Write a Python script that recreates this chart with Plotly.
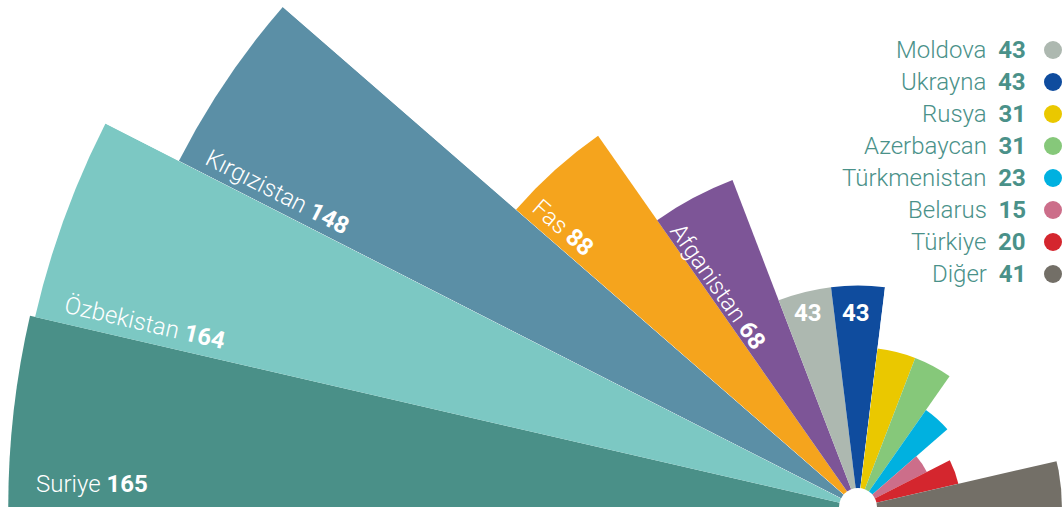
import math
import plotly.graph_objects as go

W, H = 1062, 508

# ---------------- data ----------------
countries = ["Suriye", "Özbekistan", "Kırgızistan", "Fas", "Afganistan", "Moldova",
             "Ukrayna", "Rusya", "Azerbaycan", "Türkmenistan", "Belarus", "Türkiye", "Diğer"]
values = [165, 164, 148, 88, 68, 43, 43, 31, 31, 23, 15, 20, 41]
colors = ["#4a9088", "#7cc8c3", "#5b8fa6", "#f5a41d", "#7d5597", "#adb8b0", "#0f4c9e",
          "#eac800", "#86c87a", "#00b1e0", "#cc6e8a", "#d4262e", "#736f67"]

legend_names = countries[5:]
legend_values = values[5:]
legend_colors = colors[5:]

# ---------------- geometry / style ----------------
CX, CY = 858, 507        # centre of the fan (px)
K = 5.15                 # px per unit on radial scale
START, STEP = 181, 14    # first bar edge, angular width of each bar
FONT = "Roboto"
TEAL = "#4a9189"

groups = [[0, 1], [2], [3, 4, 5, 6], [7, 8, 9, 10, 11, 12]]


def sector_bbox(s0, s1):
    a0 = s0 % 360
    a1 = a0 + (s1 - s0)
    ax0, ay0 = math.cos(math.radians(a0)), math.sin(math.radians(a0))
    ax1, ay1 = math.cos(math.radians(a1)), math.sin(math.radians(a1))
    if (a0 <= 90 <= a1) or (a0 > 90 and a1 >= 450):
        y1 = 1
    elif ay0 <= 0 and ay1 <= 0:
        y1 = 0
    else:
        y1 = max(ay0, ay1)
    if (a0 <= 180 <= a1) or (a0 > 180 and a1 >= 540):
        x0 = -1
    elif ax0 >= 0 and ax1 >= 0:
        x0 = 0
    else:
        x0 = min(ax0, ax1)
    if (a0 <= 270 <= a1) or (a0 > 270 and a1 >= 630):
        y0 = -1
    elif ay0 >= 0 and ay1 >= 0:
        y0 = 0
    else:
        y0 = min(ay0, ay1)
    if a1 >= 360:
        x1 = 1
    elif ax0 <= 0 and ax1 <= 0:
        x1 = 0
    else:
        x1 = max(ax0, ax1)
    return x0, y0, x1, y1


thetas = [START - STEP * (i + 0.5) for i in range(len(values))]

fig = go.Figure()
layout_polars = {}
for gi, idx in enumerate(groups):
    name = "polar" if gi == 0 else f"polar{gi + 1}"
    s_hi = min(180, START - STEP * idx[0])
    s_lo = max(0, START - STEP * (idx[-1] + 1))
    x0, y0, x1, y1 = sector_bbox(s_lo, s_hi)
    lim = []
    if x0 < 0: lim.append(CX / -x0)
    if x1 > 0: lim.append((W - CX) / x1)
    if y1 > 0: lim.append(CY / y1)
    if y0 < 0: lim.append((H - CY) / -y0)
    R = min(min(lim) * 0.9995, (max(values[i] for i in idx) + 0.4) * K)
    rmax = R / K
    dom_x = [max(0, (CX + R * x0) / W), min(1, (CX + R * x1) / W)]
    dom_y = [max(0, 1 - (CY - R * y0) / H), min(1, 1 - (CY - R * y1) / H)]
    fig.add_trace(go.Barpolar(
        r=[values[i] for i in idx],
        theta=[thetas[i] for i in idx],
        width=[STEP] * len(idx),
        marker=dict(color=[colors[i] for i in idx], line=dict(width=0)),
        subplot=name, hoverinfo="skip", showlegend=False,
    ))
    layout_polars[name] = dict(
        domain=dict(x=dom_x, y=dom_y),
        sector=[s_lo, s_hi],
        bgcolor="rgba(0,0,0,0)",
        radialaxis=dict(visible=False, range=[0, rmax], showgrid=False),
        angularaxis=dict(visible=False, type="linear", rotation=0,
                         direction="counterclockwise", showgrid=False),
    )


def px2x(px):
    return (px - CX) / K


def px2y(py):
    return (CY - py) / K


# legend dots
leg_y_px = [50 + 32 * i for i in range(len(legend_names))]
fig.add_trace(go.Scatter(
    x=[px2x(1053)] * len(legend_names), y=[px2y(v) for v in leg_y_px],
    mode="markers", marker=dict(size=18, color=legend_colors, line=dict(width=0)),
    hoverinfo="skip", showlegend=False, cliponaxis=False,
))

annotations = []
for nm, v, py in zip(legend_names, legend_values, leg_y_px):
    annotations.append(dict(
        x=1028 / W, y=1 - py / H, xref="paper", yref="paper",
        xanchor="right", yanchor="middle", showarrow=False,
        text=f"{nm}&nbsp; <b>{v}</b>",
        font=dict(family=FONT, size=24, color=TEAL, weight=300),
    ))

# in-bar labels: (index, radius in units, angle in degrees, text angle, show name)
label_idx = [0, 1, 2, 3, 4, 5, 6]
label_r = [148.8, 143.0, 128.3, 78.8, 50.6, 38.9, 37.7]
label_ang = [178.3, 165.5, 151.5, 136.6, 122.5, 104.5, 90.6]
label_rot = [0, 13, 27, 41, 55, 0, 0]
label_name = [True, True, True, True, True, False, False]
for i, r, a, rot, show in zip(label_idx, label_r, label_ang, label_rot, label_name):
    txt = (f"{countries[i]} <b>{values[i]}</b>" if show else f"<b>{values[i]}</b>")
    annotations.append(dict(
        x=r * math.cos(math.radians(a)), y=r * math.sin(math.radians(a)),
        xref="x", yref="y", xanchor="center", yanchor="middle",
        showarrow=False, textangle=rot, text=txt,
        font=dict(family=FONT, size=24, color="white", weight=300),
    ))

hole = 19 / K
fig.update_layout(
    width=W, height=H,
    margin=dict(l=0, r=0, t=0, b=0),
    paper_bgcolor="white", plot_bgcolor="rgba(0,0,0,0)",
    showlegend=False,
    xaxis=dict(range=[px2x(0), px2x(W)], domain=[0, 1], visible=False, fixedrange=True),
    yaxis=dict(range=[px2y(H), px2y(0)], domain=[0, 1], visible=False, fixedrange=True),
    shapes=[dict(type="circle", xref="x", yref="y", x0=-hole, x1=hole, y0=-hole, y1=hole,
                 fillcolor="white", line=dict(width=0), layer="above")],
    annotations=annotations,
    **layout_polars,
)

fig.write_html("out.html")
